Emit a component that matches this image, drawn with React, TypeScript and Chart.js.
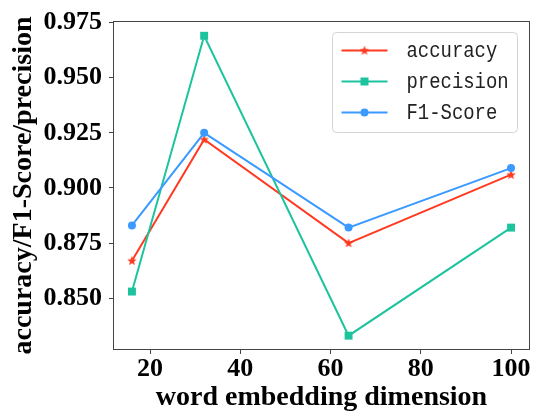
import { useEffect, useRef } from "react";
import { Chart, registerables } from "chart.js";

Chart.register(...registerables);

const dimensions = [16, 32, 64, 100];
const accuracy = [0.867, 0.922, 0.875, 0.906];
const precision = [0.853, 0.969, 0.833, 0.882];
const f1Score = [0.883, 0.925, 0.882, 0.909];
const xTicks = [20, 40, 60, 80, 100];
const yTicks = [0.85, 0.875, 0.9, 0.925, 0.95, 0.975];
const seriesLabels = ["accuracy", "precision", "F1-Score"];
const xTitle = "word embedding dimension";
const yTitle = "accuracy/F1-Score/precision";

const RED = "#FF3A20";
const TEAL = "#1CC49E";
const BLUE = "#3A9AFF";

function makeStar(color: string): HTMLCanvasElement {
  const c = document.createElement("canvas");
  c.width = 12;
  c.height = 12;
  const g = c.getContext("2d")!;
  g.fillStyle = color;
  g.beginPath();
  const cx = 6, cy = 6.3, R = 5, r = 2.1;
  for (let i = 0; i < 10; i++) {
    const rad = i % 2 === 0 ? R : r;
    const a = -Math.PI / 2 + (i * Math.PI) / 5;
    const px = cx + rad * Math.cos(a);
    const py = cy + rad * Math.sin(a);
    if (i === 0) g.moveTo(px, py);
    else g.lineTo(px, py);
  }
  g.closePath();
  g.fill();
  return c;
}

export default function App() {
  const ref = useRef<HTMLCanvasElement | null>(null);

  useEffect(() => {
    if (!ref.current) return;
    const star = makeStar(RED);
    const toPts = (vals: number[]) => vals.map((v, i) => ({ x: dimensions[i], y: v }));
    const serif = "'Liberation Serif', 'Times New Roman', serif";

    const frameAndLegend = {
      id: "frameAndLegend",
      afterDraw(chart: any) {
        const ctx = chart.ctx as CanvasRenderingContext2D;
        const a = chart.chartArea;
        ctx.save();
        // frame
        ctx.strokeStyle = "#444444";
        ctx.lineWidth = 1;
        ctx.strokeRect(Math.round(a.left) + 0.5, Math.round(a.top) + 0.5, Math.round(a.right - a.left) - 1, Math.round(a.bottom - a.top) - 1);
        // legend
        const bx = a.right - 197.5;
        const by = a.top + 11.5;
        const bw = 185;
        const bh = 100;
        const rr = 4;
        ctx.beginPath();
        ctx.moveTo(bx + rr, by);
        ctx.lineTo(bx + bw - rr, by);
        ctx.arcTo(bx + bw, by, bx + bw, by + rr, rr);
        ctx.lineTo(bx + bw, by + bh - rr);
        ctx.arcTo(bx + bw, by + bh, bx + bw - rr, by + bh, rr);
        ctx.lineTo(bx + rr, by + bh);
        ctx.arcTo(bx, by + bh, bx, by + bh - rr, rr);
        ctx.lineTo(bx, by + rr);
        ctx.arcTo(bx, by, bx + rr, by, rr);
        ctx.closePath();
        ctx.fillStyle = "rgba(255,255,255,0.8)";
        ctx.fill();
        ctx.strokeStyle = "#d4d4d4";
        ctx.stroke();
        const colors = [RED, TEAL, BLUE];
        seriesLabels.forEach((label, i) => {
          const y = by + 18 + i * 31;
          const x0 = bx + 9;
          const x1 = bx + 55;
          const xm = (x0 + x1) / 2;
          ctx.strokeStyle = colors[i];
          ctx.lineWidth = 2;
          ctx.beginPath();
          ctx.moveTo(x0, y);
          ctx.lineTo(x1, y);
          ctx.stroke();
          ctx.fillStyle = colors[i];
          if (i === 0) {
            ctx.drawImage(star, xm - 6, y - 6);
          } else if (i === 1) {
            ctx.fillRect(xm - 4, y - 4, 8, 8);
          } else {
            ctx.beginPath();
            ctx.arc(xm, y, 4, 0, Math.PI * 2);
            ctx.fill();
          }
          ctx.fillStyle = "#222222";
          ctx.font = "22px 'Liberation Mono', monospace";
          ctx.textBaseline = "middle";
          ctx.textAlign = "left";
          ctx.save();
          ctx.translate(bx + 74, y + 1);
          ctx.scale(0.86, 1);
          ctx.fillText(label, 0, 0);
          ctx.restore();
        });
        ctx.restore();
      },
    };

    const chart = new Chart(ref.current, {
      type: "line",
      data: {
        datasets: [
          {
            label: seriesLabels[0],
            data: toPts(accuracy),
            borderColor: RED,
            backgroundColor: RED,
            borderWidth: 2,
            pointStyle: star as any,
            pointRadius: 5,
            order: 3,
          },
          {
            label: seriesLabels[1],
            data: toPts(precision),
            borderColor: TEAL,
            backgroundColor: TEAL,
            borderWidth: 2,
            pointStyle: "rect",
            pointRadius: 5.6,
            pointBorderWidth: 0,
            order: 2,
          },
          {
            label: seriesLabels[2],
            data: toPts(f1Score),
            borderColor: BLUE,
            backgroundColor: BLUE,
            borderWidth: 2,
            pointStyle: "circle",
            pointRadius: 4,
            pointBorderWidth: 0,
            order: 1,
          },
        ],
      },
      options: {
        responsive: false,
        animation: false,
        layout: { padding: { top: 21, right: 2, left: 0, bottom: 0 } },
        plugins: { legend: { display: false }, tooltip: { enabled: false } },
        scales: {
          x: {
            type: "linear",
            min: 11.8,
            max: 104.2,
            border: { display: false },
            grid: { drawOnChartArea: false, drawTicks: true, tickLength: 4, color: "#444444" },
            afterBuildTicks: (s: any) => {
              s.ticks = xTicks.map((v) => ({ value: v }));
            },
            afterFit: (s: any) => {
              s.height = 62;
              s.paddingLeft = 0;
              s.paddingRight = 0;
            },
            ticks: {
              autoSkip: false,
              maxRotation: 0,
              padding: 2,
              color: "#000000",
              font: { family: serif, size: 26, weight: "bold", lineHeight: 1 },
            },
            title: {
              display: true,
              text: xTitle,
              color: "#000000",
              padding: { top: 0, bottom: 0 },
              font: { family: serif, size: 28, weight: "bold", lineHeight: 1 },
            },
          },
          y: {
            type: "linear",
            min: 0.8265,
            max: 0.9757,
            border: { display: false },
            grid: { drawOnChartArea: false, drawTicks: true, tickLength: 4, color: "#444444" },
            afterBuildTicks: (s: any) => {
              s.ticks = yTicks.map((v) => ({ value: v }));
            },
            afterFit: (s: any) => {
              s.width = 113;
              s.paddingTop = 0;
              s.paddingBottom = 0;
            },
            ticks: {
              autoSkip: false,
              padding: 7,
              color: "#000000",
              callback: (v: any) => Number(v).toFixed(3),
              font: { family: serif, size: 26, weight: "bold", lineHeight: 1 },
            },
            title: {
              display: true,
              text: yTitle,
              color: "#000000",
              padding: { top: 10, bottom: 0 },
              font: { family: serif, size: 28, weight: "bold", lineHeight: 1 },
            },
          },
        },
      },
      plugins: [frameAndLegend],
    });
    return () => chart.destroy();
  }, []);

  return (
    <div style={{ position: "absolute", left: 0, top: 0, width: 537, height: 412, background: "#ffffff" }}>
      <canvas ref={ref} width={537} height={412} style={{ display: "block" }} />
    </div>
  );
}
